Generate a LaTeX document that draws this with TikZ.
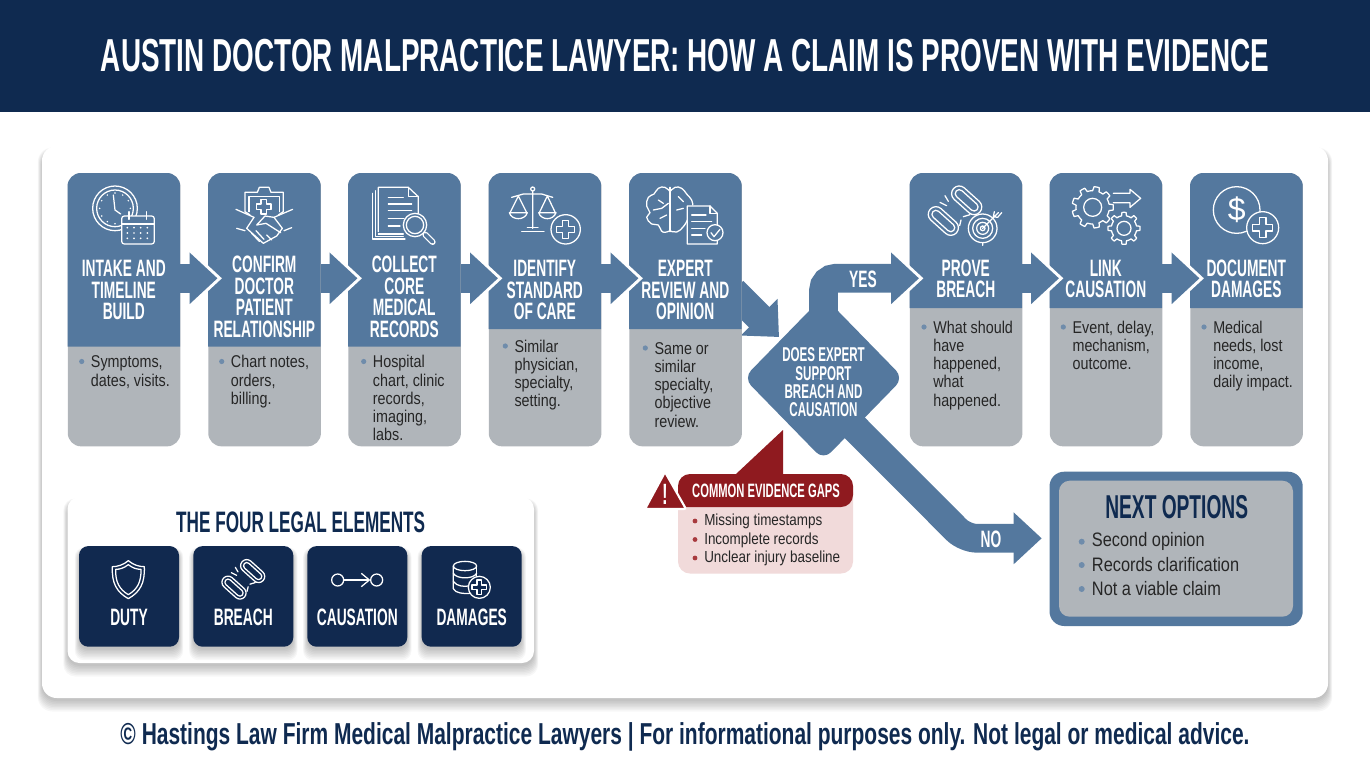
\documentclass[tikz,border=0pt]{standalone}
\usepackage{fontspec}
\setmainfont{Liberation Sans}
\newfontfamily\headfont{Liberation Sans}[FakeStretch=0.58]
\newfontfamily\titlefont{Liberation Sans}[FakeStretch=0.603]
\newfontfamily\footfont{Liberation Sans}[FakeStretch=0.693]
\newfontfamily\bodyfont{Liberation Sans}[FakeStretch=0.84]
\usetikzlibrary{arrows.meta,calc,shapes.geometric}

\definecolor{navyband}{HTML}{0F2A50}
\definecolor{navycard}{HTML}{11294F}
\definecolor{flowblue}{HTML}{54789E}
\definecolor{stepgray}{HTML}{B0B5BA}
\definecolor{dotblue}{HTML}{6F8CAB}
\definecolor{gapred}{HTML}{8F1A1F}
\definecolor{gappink}{HTML}{F1DADA}
\definecolor{dotred}{HTML}{A83A3E}

\tikzset{
  icon/.style={draw=white, line width=0.95pt, line cap=round, line join=round},
  flowarrow/.style={draw=flowblue, line width=21.5pt, -{Triangle[length=21pt,width=37.5pt]}},
  flowhalo/.style={draw=white, line width=21.5pt, -{Triangle[length=24.4pt,width=43.5pt]}},
  stepbox/.style={fill=stepgray, rounded corners=10pt, minimum width=84.5pt, minimum height=204.8pt, inner sep=0pt},
  steptitle/.style={text=white, align=center, inner sep=0pt, font=\headfont\bfseries\fontsize{17.8}{16.1}\selectfont},
  steptext/.style={text=black!85, align=left, anchor=north west, inner sep=0pt, font=\bodyfont\fontsize{12.8}{13.6}\selectfont},
  elemcard/.style={fill=navycard, rounded corners=7pt, minimum width=75pt, minimum height=75.5pt, inner sep=0pt},
  softpanel/.style={fill=black, opacity=0.03},
  chainicon/.pic={
    \foreach \cx/\cy in {35/-31,-35/31} {
      \draw[icon, shift={(\cx,\cy)}, rotate=-42] (-30,-23) -- (30,-23) arc (-90:90:23) -- (-30,23) arc (90:270:23) -- cycle;
      \draw[icon, shift={(\cx,\cy)}, rotate=-42] (-30,-12) -- (30,-12) arc (-90:90:12) -- (-30,12) arc (90:270:12) -- cycle;
    }
    \draw[icon] (-45,-25) -- (-25,-15) (-30,-45) -- (-20,-28) (25,18) -- (45,12) (18,28) -- (14,45);
  }
}

% soft shadow below a card: x1 y1 x2 y2 radius
\newcommand{\softshadow}[5]{
  \foreach \s in {0,...,7} {
    \fill[softpanel, rounded corners=#5] ({#1-0.6*\s},{#2+5-0.5*\s}) rectangle ({#3+0.6*\s},{#4+3+1.5*\s});
  }
}
% cross outline: x y arm halfwidth
\newcommand{\crossmark}[4]{
  \draw[icon, shift={(#1,#2)}] (-#4,-#3) -- (#4,-#3) -- (#4,-#4) -- (#3,-#4) -- (#3,#4) -- (#4,#4) -- (#4,#3) -- (-#4,#3) -- (-#4,#4) -- (-#3,#4) -- (-#3,-#4) -- (-#4,-#4) -- cycle;
}
% gear outline: x y radius tooth hole teeth
\newcommand{\gearmark}[6]{
  \draw[icon, shift={(#1,#2)}] plot[samples=97, domain=0:360, variable=\t]
    ({(#3+#4*(cos(#6*\t)>0?1:-1))*cos(\t)},{(#3+#4*(cos(#6*\t)>0?1:-1))*sin(\t)}) -- cycle;
  \draw[icon] (#1,#2) circle (#5);
}

\begin{document}
\begin{tikzpicture}[x=0.75pt, y=-0.75pt]
\useasboundingbox (0,0) rectangle (1370,765);
\fill[white] (0,0) rectangle (1370,765);

% ---------------- Header and footer ----------------
\fill[navyband] (0,0) rectangle (1370,112);
\node[text=white, inner sep=0pt, font=\titlefont\bfseries\fontsize{34.7}{36}\selectfont] (headline) at (685,56)
  {AUSTIN DOCTOR MALPRACTICE LAWYER: HOW A CLAIM IS PROVEN WITH EVIDENCE};
\node[text=navyband, inner sep=0pt, font=\footfont\bfseries\fontsize{22.7}{24}\selectfont] (footline) at (685,737)
  {© Hastings Law Firm Medical Malpractice Lawyers | For informational purposes only. Not legal or medical advice.};

% ---------------- Main panel ----------------
\softshadow{42}{146}{1328}{698}{11pt}
\fill[white, rounded corners=11pt] (42,146) rectangle (1328,698);

% ---------------- Decision and its arrows ----------------
\coordinate (expertOut) at (733,291);
\coordinate (decisionIn) at (779,337);
\coordinate (noStart) at (850,423);
\coordinate (noElbow) at (965,538.3);
\coordinate (noTip) at (1041.7,538.3);
\node[diamond, aspect=1, fill=flowblue, rounded corners=8pt, minimum width=120pt, minimum height=123pt, inner sep=0pt] (decision) at (823.5,378) {};
\draw[flowarrow] (expertOut) -- (decisionIn);
\draw[flowarrow, rounded corners=9pt] (noStart) -- (noElbow) -- (noTip);

% ---------------- Step columns ----------------
\foreach \nm/\x/\hb in {1/67.5/346.7,2/208/346.7,3/348/346.7,4/488.5/329,5/629/329,6/909.5/308,7/1049.5/308,8/1190/308} {
  \node[stepbox, anchor=north west] (step\nm) at (\x,173) {};
  \fill[flowblue] (\x,\hb) [rounded corners=10pt] -- (\x,173) -- ({\x+112.7},173) [sharp corners] -- ({\x+112.7},\hb) -- cycle;
  \coordinate (out\nm) at ({\x+112.7},278.3);
  \coordinate (in\nm) at ({\x+9.5},278.3);
  \coordinate (halo\nm) at ({\x+14},278.3);
}

% connectors along the row
\foreach \a/\b in {1/2,2/3,3/4,4/5,6/7,7/8} {
  \draw[flowhalo] (out\a) -- (halo\b);
  \draw[flowarrow] (out\a) -- (in\b);
}
\draw[flowhalo, rounded corners=9pt] (decision.center) |- (halo6);
\draw[flowarrow, rounded corners=9pt] (decision.center) |- (in6);

% step titles
\foreach \nm/\x/\y/\txt in {
  1/123.8/290/{INTAKE AND\\TIMELINE\\BUILD},
  2/264.3/297/{CONFIRM\\DOCTOR\\PATIENT\\RELATIONSHIP},
  3/404.3/297/{COLLECT\\CORE\\MEDICAL\\RECORDS},
  4/544.8/290/{IDENTIFY\\STANDARD\\OF CARE},
  5/685.3/290/{EXPERT\\REVIEW AND\\OPINION},
  6/965.8/279/{PROVE\\BREACH},
  7/1105.8/279/{LINK\\CAUSATION},
  8/1246.3/279/{DOCUMENT\\DAMAGES}} {
  \node[steptitle] (title\nm) at (\x,\y) {\txt};
}

% step bullets
\foreach \nm/\x/\y/\txt in {
  1/90.7/361.5/{Symptoms,\\dates, visits.},
  2/230.7/361.5/{Chart notes,\\orders,\\billing.},
  3/372.7/361.5/{Hospital\\chart, clinic\\records,\\imaging,\\labs.},
  4/514.3/346/{Similar\\physician,\\specialty,\\setting.},
  5/654.3/348/{Same or\\similar\\specialty,\\objective\\review.},
  6/933/327/{What should\\have\\happened,\\what\\happened.},
  7/1072.3/327/{Event, delay,\\mechanism,\\outcome.},
  8/1213/327/{Medical\\needs, lost\\income,\\daily impact.}} {
  \fill[dotblue] ({\x-9},\y) circle (2.6);
  \node[steptext] (text\nm) at (\x,{\y-6.5}) {\strut\txt};
}

% ---------------- Step icons ----------------
\begin{scope}[shift={(50,160)}, scale=1/3]
  % clock and calendar
  \draw[icon] (195,145) circle (67);
  \draw[icon] (195,145) circle (55);
  \foreach \a in {0,30,...,330} { \fill[white] (195,145) ++(\a:46) circle (2.5); }
  \draw[icon] (190,105) -- (195,150) -- (212,162);
  \draw[icon, fill=flowblue, rounded corners=2pt] (215,168) rectangle (313,252);
  \draw[icon] (215,192) -- (313,192) (237,155) -- (237,178) (290,155) -- (290,178);
  \foreach \px in {232,252,272,292} { \foreach \py in {203,219,235} { \fill[white] (\px,\py) circle (2.8); } }
  % clipboard and handshake
  \draw[icon] (600,165) -- (585,155) -- (585,97) -- (622,97) -- (628,82) -- (657,82) -- (663,97) -- (700,97) -- (700,155) -- (685,165);
  \draw[icon] (597,155) -- (597,110) -- (688,110) -- (688,155);
  \crossmark{641}{140}{22}{8}
  \draw[icon] (558,148) -- (612,172) (728,148) -- (672,172);
  \draw[icon] (612,172) -- (590,205) -- (640,250) -- (680,228) -- (697,205) -- (672,172) -- (645,168) -- (620,195) -- (648,190) -- (692,218);
  \draw[icon] (560,205) -- (585,212) (725,203) -- (702,212);
  \draw[icon] (605,220) -- (628,244) (618,212) -- (642,238) (650,225) -- (665,240);
  % documents and magnifier
  \draw[icon] (985,215) -- (985,82) -- (1075,82) -- (1105,110) -- (1105,165);
  \draw[icon] (1075,82) -- (1075,110) -- (1105,110) (985,222) -- (1060,222);
  \draw[icon] (976,92) -- (976,230) -- (1060,230) (968,100) -- (968,237) -- (1065,237);
  \draw[icon] (1015,112) -- (1060,112) (1015,132) -- (1085,132) (1015,152) -- (1085,152) (1015,175) -- (1062,175) (1015,198) -- (1050,198);
  \draw[icon, fill=flowblue] (1095,195) circle (35);
  \draw[icon] (1095,195) circle (26);
  \draw[white, line width=4.5pt, line cap=round] (1126,224) -- (1148,246);
  \draw[flowblue, line width=2.6pt, line cap=round] (1126,224) -- (1148,246);
\end{scope}

\begin{scope}[shift={(470,160)}, scale=1/3]
  % scales and cross
  \draw[icon] (188,87) circle (6) (188,95) -- (188,205) (125,112) -- (160,102) -- (215,102) -- (248,112);
  \draw[icon] (155,214) -- (222,214) (172,203) -- (204,203);
  \draw[icon] (145,108) -- (120,158) (145,108) -- (170,158) (232,108) -- (208,158) (232,108) -- (256,158);
  \draw[icon] (118,158) -- (172,158) .. controls (165,182) and (125,182) .. (118,158);
  \draw[icon] (206,158) -- (258,158) .. controls (250,182) and (214,182) .. (206,158);
  \draw[icon] (287,208) circle (44);
  \crossmark{287}{208}{27}{9}
  % brain and report
  \draw[icon] (600,82) -- (600,215);
  \draw[icon] plot[smooth, tension=0.8] coordinates {(600,95) (585,82) (565,85) (552,102) (535,112) (530,138) (540,158) (530,172) (545,192) (565,195) (578,216) (600,212)};
  \draw[icon] plot[smooth, tension=0.8] coordinates {(600,95) (615,82) (635,85) (650,102) (665,120) (668,135)};
  \draw[icon] plot[smooth, tension=0.8] coordinates {(652,180) (640,200) (620,216) (600,212)};
  \draw[icon] (565,120) -- (580,130) (550,150) -- (575,145) (575,145) -- (595,130) (625,110) -- (640,125) (620,150) -- (640,145) (570,175) -- (590,165);
  \draw[icon, fill=flowblue] (652,138) -- (720,138) -- (742,160) -- (742,252) -- (652,252) -- cycle;
  \draw[icon] (720,138) -- (720,160) -- (742,160);
  \draw[icon] (665,165) -- (708,165) (665,185) -- (725,185) (665,205) -- (705,205) (665,225) -- (695,225);
  \draw[icon, fill=flowblue] (735,218) circle (24);
  \draw[icon] (723,218) -- (732,230) -- (750,208);
\end{scope}

\begin{scope}[shift={(900,160)}, scale=1/3]
  % broken link and target
  \pic[transform shape] at (165,152) {chainicon};
  \draw[icon] (248,205) circle (43) (248,205) circle (30) (248,205) circle (18) (248,205) circle (7);
  \draw[icon] (248,205) -- (295,158) (283,155) -- (280,170) -- (293,172) -- (305,158) (248,248) -- (248,256);
  % gears and arrow
  \gearmark{578}{142}{56}{6}{27}{9}
  \gearmark{672}{205}{43}{5}{21}{8}
  \draw[icon] (640,100) -- (690,100) -- (690,88) -- (722,115) -- (690,142) -- (690,128) -- (640,128);
  % dollar and cross
  \draw[icon] (1010,150) circle (70);
  \draw[icon, fill=flowblue] (1088,203) circle (48);
  \crossmark{1088}{203}{30}{10}
  \node[text=white, inner sep=0pt, font=\fontsize{24}{24}\selectfont] (dollar) at (1010,148) {\$};
\end{scope}

% ---------------- Decision text and arrow labels ----------------
\node[text=white, align=center, inner sep=0pt, font=\headfont\bfseries\fontsize{15}{13.7}\selectfont] (decisiontext) at (823.5,382.5)
  {DOES EXPERT\\SUPPORT\\BREACH AND\\CAUSATION};
\node[steptitle] (yeslabel) at (863,279) {YES};
\node[steptitle] (nolabel) at (991,539) {NO};

% ---------------- Evidence gaps callout ----------------
\fill[gappink, rounded corners=9pt] (678,480) rectangle (853,573.5);
\fill[gapred] (736,474) -- (783,430) -- (783,474) -- cycle;
\fill[gapred] (678,507) [rounded corners=9pt] -- (678,474) -- (853,474) -- (853,507) [sharp corners] -- cycle;
\draw[white, line width=1.6pt, fill=gapred, rounded corners=1.5pt] (665,472) -- (645,509) -- (686,509) -- cycle;
\node[text=white, inner sep=0pt, font=\headfont\bfseries\fontsize{22}{22}\selectfont] (warnmark) at (665,494) {!};
\node[text=white, inner sep=0pt, font=\headfont\bfseries\fontsize{14.5}{14}\selectfont] (gaptitle) at (766,490.5) {COMMON EVIDENCE GAPS};
\foreach \i/\y/\txt in {1/521/Missing timestamps,2/539.5/Incomplete records,3/558/Unclear injury baseline} {
  \fill[dotred] (695,\y) circle (2.4);
  \node[text=black!85, anchor=west, inner sep=0pt, font=\bodyfont\fontsize{12}{13}\selectfont] (gap\i) at (704,{\y+0.8}) {\txt};
}

% ---------------- Next options ----------------
\fill[flowblue, rounded corners=11pt] (1049.5,471.7) rectangle (1302.7,626);
\fill[stepgray, rounded corners=8pt] (1059,480.7) rectangle (1293,616.7);
\node[text=navyband, inner sep=0pt, font=\headfont\bfseries\fontsize{24.8}{26}\selectfont] (nexttitle) at (1176.7,506.7) {NEXT OPTIONS};
\foreach \i/\y/\txt in {1/541.7/Second opinion,2/565/Records clarification,3/589/Not a viable claim} {
  \fill[dotblue] (1081.7,\y) circle (3);
  \node[text=black!85, anchor=west, inner sep=0pt, font=\bodyfont\fontsize{14.6}{17}\selectfont] (next\i) at (1091.7,\y) {\txt};
}

% ---------------- Four legal elements ----------------
\softshadow{67.5}{497}{534}{663}{9pt}
\fill[white, rounded corners=9pt] (67.5,497) rectangle (534,663);
\node[text=navyband, inner sep=0pt, font=\headfont\bfseries\fontsize{22.2}{24}\selectfont] (elemtitle) at (300.7,522.5) {THE FOUR LEGAL ELEMENTS};
\foreach \nm/\x/\txt in {duty/129/DUTY,breach/243.3/BREACH,causation/357.3/CAUSATION,damages/471.7/DAMAGES} {
  \softshadow{\x-50}{546}{\x+50}{646.7}{7pt}
  \node[elemcard] (\nm) at (\x,596.4) {};
  \node[text=white, inner sep=0pt, font=\headfont\bfseries\fontsize{17.8}{18}\selectfont] (\nm label) at (\x,617.5) {\txt};
}

\begin{scope}[shift={(60,490)}, scale=1/3]
  % shield
  \draw[icon] (205,212) .. controls (190,225) and (172,230) .. (157,230) .. controls (155,280) and (170,306) .. (205,326) .. controls (240,306) and (255,280) .. (253,230) .. controls (238,230) and (220,225) .. (205,212) -- cycle;
  \draw[icon] (205,224) .. controls (192,234) and (180,238) .. (167,238) .. controls (166,276) and (178,298) .. (205,314) .. controls (232,298) and (244,276) .. (243,238) .. controls (230,238) and (218,234) .. (205,224) -- cycle;
  % link
  \pic[scale=0.8, transform shape] at (550,268) {chainicon};
  % circles and arrow
  \draw[icon] (833,270) circle (18) (950,270) circle (18);
  \draw[icon, -{Straight Barb[length=6pt,width=10pt]}] (852,270) -- (931,270);
  % stack and cross
  \draw[icon] (1215,228) ellipse (35 and 14);
  \draw[icon] (1180,228) -- (1180,296) .. controls (1185,310) and (1215,312) .. (1230,310);
  \draw[icon] (1250,228) -- (1250,262);
  \draw[icon] (1180,250) .. controls (1190,268) and (1240,268) .. (1250,250);
  \draw[icon] (1180,274) .. controls (1190,290) and (1215,290) .. (1225,288);
  \draw[icon, fill=navycard] (1258,292) circle (33);
  \crossmark{1258}{292}{22}{7}
\end{scope}
\end{tikzpicture}
\end{document}
